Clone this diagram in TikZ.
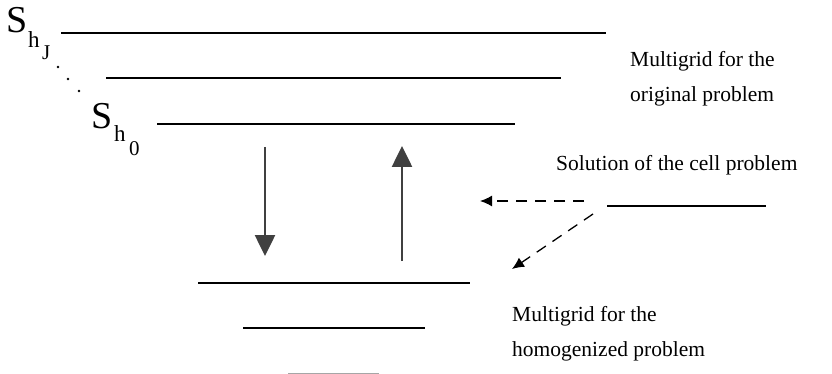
\documentclass[tikz,border=0pt]{standalone}
\usepackage{fontspec}
\setmainfont{Liberation Serif}
\usetikzlibrary{arrows.meta}
\definecolor{arrowgray}{HTML}{404040}
\begin{document}
\begin{tikzpicture}[x=1pt,y=-1pt,
  level/.style={line width=1.4pt,black},
  bigarrow/.style={line width=2.6pt,arrowgray,-{Triangle[width=20pt,length=21pt]}},
  dasharrow/.style={line width=1.3pt,black,dash pattern=on 11pt off 8pt,-{Latex[width=11pt,length=12pt]}},
  lbl/.style={inner sep=0pt,anchor=base west,font=\fontsize{21.5}{35}\selectfont,align=left},
  bigS/.style={inner sep=0pt,anchor=base west,font=\fontsize{38}{38}\selectfont},
  subh/.style={inner sep=0pt,anchor=base west,font=\fontsize{23}{23}\selectfont},
  subsub/.style={inner sep=0pt,anchor=base west,font=\fontsize{21}{21}\selectfont}]
\useasboundingbox (0,0) rectangle (832,374);
% levels
\coordinate (l1a) at (61,33);  \coordinate (l1b) at (606,33);
\coordinate (l2a) at (106,78); \coordinate (l2b) at (561,78);
\coordinate (l3a) at (157,124);\coordinate (l3b) at (515,124);
\coordinate (l4a) at (607,206);\coordinate (l4b) at (766,206);
\coordinate (l5a) at (198,283);\coordinate (l5b) at (470,283);
\coordinate (l6a) at (243,328);\coordinate (l6b) at (425,328);
\coordinate (l7a) at (288,373.5);\coordinate (l7b) at (379,373.5);
\draw[level] (l1a) -- (l1b);
\draw[level] (l2a) -- (l2b);
\draw[level] (l3a) -- (l3b);
\draw[level] (l4a) -- (l4b);
\draw[level] (l5a) -- (l5b);
\draw[level] (l6a) -- (l6b);
\draw[line width=2pt,gray!70] (l7a) -- (l7b);
% S labels
\node[bigS] (S1) at (6,33) {S};
\node[subh] (h1) at (28,48) {h};
\node[subsub] (J1) at (42,60) {J};
\node[bigS] (S0) at (91,129) {S};
\node[subh] (h0) at (114,142) {h};
\node[subsub] (z0) at (129,156) {0};
% dots
\fill (58,67) circle (1.3pt) (68,79) circle (1.3pt) (79,91) circle (1.3pt);
% big arrows
\coordinate (d1) at (265,147); \coordinate (d2) at (265,256);
\coordinate (u1) at (402,261); \coordinate (u2) at (402,146);
\draw[bigarrow] (d1) -- (d2);
\draw[bigarrow] (u1) -- (u2);
% dashed arrows
\coordinate (h1s) at (584,201); \coordinate (h1e) at (480,201);
\coordinate (g1s) at (593,214); \coordinate (g1e) at (512,269);
\draw[dasharrow] (h1s) -- (h1e);
\draw[dasharrow] (g1s) -- (g1e);
% texts (base anchor = baseline of last line)
\node[lbl] (t1) at (630,102) {Multigrid for the\\original problem};
\node[lbl] (t2) at (556,171) {Solution of the cell problem};
\node[lbl] (t3) at (512,356) {Multigrid for the\\homogenized problem};
\end{tikzpicture}
\end{document}
